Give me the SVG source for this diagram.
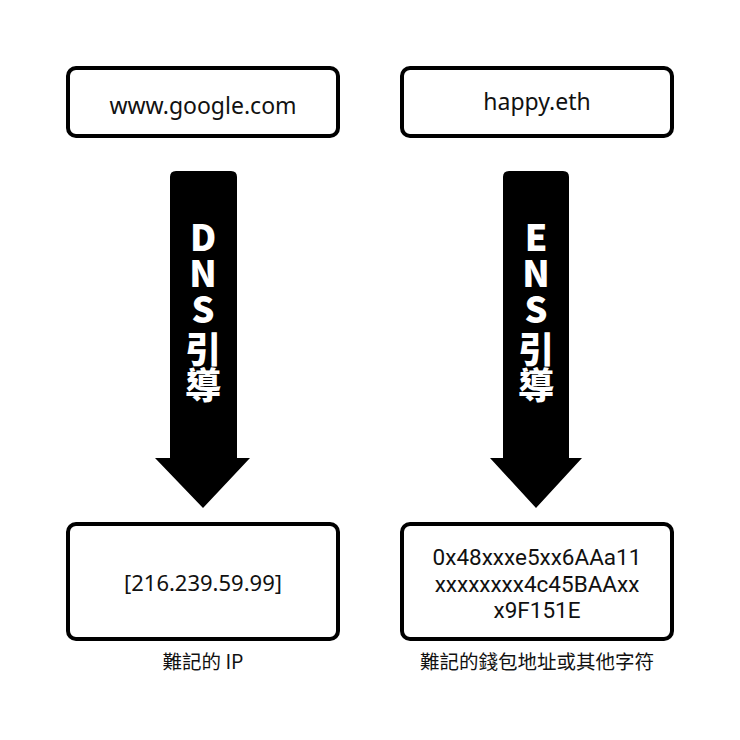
<svg xmlns="http://www.w3.org/2000/svg" width="740" height="740" viewBox="0 0 740 740">
<style>
.box{fill:#fff;stroke:#000;stroke-width:4}
.t{font-family:"Noto Sans","Noto Sans CJK TC",sans-serif;font-size:22px;fill:#111;text-anchor:middle}
.top{font-size:23px}
.hex{font-family:Roboto,"Noto Sans",sans-serif;font-size:22.5px;fill:#111;text-anchor:middle}
.cap{font-family:"Noto Sans CJK TC",sans-serif;font-size:19.5px;fill:#111;text-anchor:middle}
.v{font-family:"Noto Sans CJK TC",sans-serif;font-weight:900;font-size:36px;fill:#fff;writing-mode:vertical-rl;text-orientation:upright}
.arrow{fill:#000}
</style>
<rect width="740" height="740" fill="#fff"/>
<g id="google">
<rect class="box" x="68" y="68" width="270" height="68" rx="8"/>
<text class="t top" x="203" y="114">www.google.com</text>
</g>
<g id="happy">
<rect class="box" x="402" y="68" width="270" height="68" rx="8"/>
<text class="t top" x="537" y="110">happy.eth</text>
</g>
<g id="connectors">
<g id="dns-arrow">
<path class="arrow" d="M176,171 H231 Q237,171 237,177 V458 H250 L203,508 L155,458 H170 V177 Q170,171 176,171 Z"/>
<text class="v" x="203" y="219">DNS<tspan dy="4">引導</tspan></text>
</g>
<g id="ens-arrow">
<path class="arrow" d="M509,171 H563 Q569,171 569,177 V458 H582 L536,508 L490,458 H503 V177 Q503,171 509,171 Z"/>
<text class="v" x="536" y="219">ENS<tspan dy="4">引導</tspan></text>
</g>
</g>
<g id="ip">
<rect class="box" x="68" y="524" width="270" height="115" rx="8"/>
<text class="t" x="203" y="591">[216.239.59.99]</text>
<text class="cap" x="203" y="669">難記的 IP</text>
</g>
<g id="address">
<rect class="box" x="402" y="524" width="270" height="115" rx="8"/>
<text class="hex" x="537" y="565">0x48xxxe5xx6AAa11</text>
<text class="hex" x="537" y="591.5">xxxxxxxx4c45BAAxx</text>
<text class="hex" x="537" y="618">x9F151E</text>
<text class="cap" x="537" y="669">難記的錢包地址或其他字符</text>
</g>
</svg>
